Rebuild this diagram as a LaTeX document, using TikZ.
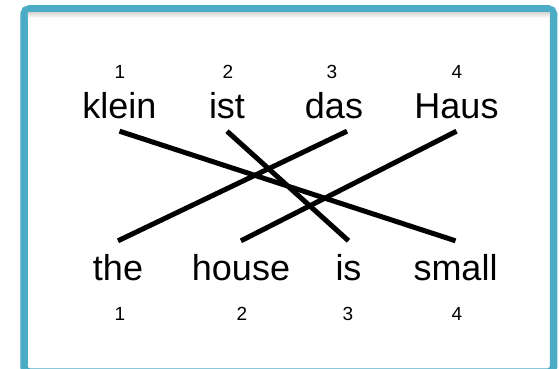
\documentclass[tikz,border=0pt]{standalone}
\usepackage{fontspec}
\setmainfont{Liberation Sans}
\usetikzlibrary{calc}
\definecolor{frame}{RGB}{76,172,198}
\begin{document}
\begin{tikzpicture}[x=1pt,y=-1pt,
  word/.style={anchor=base, font=\fontsize{36}{40}\selectfont, text height=26pt, text depth=0pt, inner ysep=13pt, inner xsep=2pt},
  num/.style={anchor=base, font=\fontsize{19}{21}\selectfont, inner sep=0pt},
  link/.style={line width=5pt, black}]
\useasboundingbox (0,0) rectangle (559,369);
\fill[white] (0,0) rectangle (559,369);
\begin{scope}
\clip (0,0) rectangle (559,369);
\draw[frame, line width=7.5pt, rounded corners=5pt, fill=white] (24,9) rectangle (553.5,372);
\fill[top color=black!15, bottom color=white] (27.75,12.75) rectangle (549.75,18);
\end{scope}
% top numbers
\node[num] (t1) at (120,78) {1};
\node[num] (t2) at (228,78) {2};
\node[num] (t3) at (332,78) {3};
\node[num] (t4) at (457,78) {4};
% top words
\node[word] (klein) at (119.5,118) {klein};
\node[word] (ist) at (227,118) {ist};
\node[word] (das) at (334,118) {das};
\node[word] (Haus) at (456.5,118) {Haus};
% bottom words
\node[word] (the) at (118,280) {the};
\node[word] (house) at (241,280) {house};
\node[word] (is) at (348.5,280) {is};
\node[word] (small) at (455.5,280) {small};
% bottom numbers
\node[num] (b1) at (120,320) {1};
\node[num] (b2) at (242,320) {2};
\node[num] (b3) at (348,320) {3};
\node[num] (b4) at (457,320) {4};
% alignment links
\draw[link] (klein.south) -- (small.north);
\draw[link] (ist.south) -- (is.north);
\draw[link] ($(das.south)+(13,0)$) -- (the.north);
\draw[link] (Haus.south) -- (house.north);
\end{tikzpicture}
\end{document}
